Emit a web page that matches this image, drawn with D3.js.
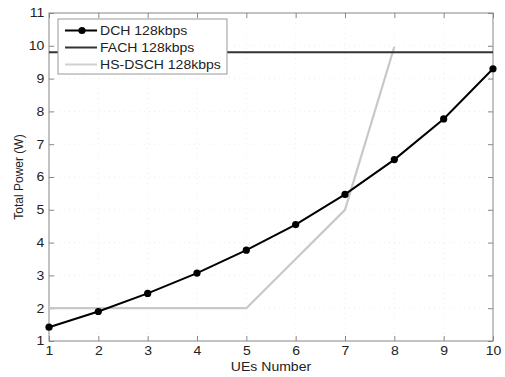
<!DOCTYPE html>
<html><head><meta charset="utf-8">
<script src="https://cdn.jsdelivr.net/npm/d3@7"></script>
<style>body{margin:0;background:#fff}svg{display:block;font-family:Arial,"Liberation Sans",sans-serif}</style>
</head><body><svg id="c" width="505" height="377"></svg>
<script>
const ues = [1,2,3,4,5,6,7,8,9,10];
const dch = [1.42,1.9,2.45,3.07,3.77,4.55,5.47,6.53,7.77,9.3];
const fach = [9.8,9.8,9.8,9.8,9.8,9.8,9.8,9.8,9.8,9.8];
const hsUes = [1,2,3,4,5,6,7,8];
const hsdsch = [2,2,2,2,2,3.5,5.0,9.97];
const xTicks = [1,2,3,4,5,6,7,8,9,10];
const yTicks = [1,2,3,4,5,6,7,8,9,10,11];
const legendLabels = ["DCH 128kbps","FACH 128kbps","HS-DSCH 128kbps"];

const svg = d3.select("#c");
const L=49,R=493,T=13,B=341;
const SX = 1.17; // horizontal stretch of text in reference
const x = d3.scaleLinear().domain([1,10]).range([L,R]);
const y = d3.scaleLinear().domain([1,11]).range([B,T]);

// faint grid
const g = svg.append("g");
xTicks.forEach(t=>g.append("line").attr("x1",x(t)).attr("x2",x(t)).attr("y1",T).attr("y2",B)
  .attr("stroke","#eeeeee").attr("stroke-dasharray","1,4"));
yTicks.forEach(t=>g.append("line").attr("y1",y(t)).attr("y2",y(t)).attr("x1",L).attr("x2",R)
  .attr("stroke","#eeeeee").attr("stroke-dasharray","1,4"));

// axes
const xa = d3.axisBottom(x).tickValues(xTicks).tickSize(-5).tickPadding(5).tickFormat(d3.format("d"));
const ya = d3.axisLeft(y).tickValues(yTicks).tickSize(-5).tickPadding(4).tickFormat(d3.format("d"));
const xt = d3.axisTop(x).tickValues(xTicks).tickSize(-5).tickFormat("");
const yr = d3.axisRight(y).tickValues(yTicks).tickSize(-5).tickFormat("");
function style(sel){sel.selectAll("line").attr("stroke","#888");
  sel.selectAll("text").attr("fill","#222").style("font-size","12px")
    .style("font-family","Arial,'Liberation Sans',sans-serif");}
svg.append("g").attr("transform",`translate(0,${B})`).call(xa).call(style)
  .selectAll("text").attr("transform",`scale(${SX},1)`);
svg.append("g").attr("transform",`translate(${L},0)`).call(ya).call(style)
  .selectAll("text").attr("transform",`scale(${SX},1)`);
svg.append("g").attr("transform",`translate(0,${T})`).call(xt).call(style);
svg.append("g").attr("transform",`translate(${R},0)`).call(yr).call(style);
svg.selectAll(".domain").remove();
svg.append("rect").attr("x",L).attr("y",T).attr("width",R-L).attr("height",B-T)
  .attr("fill","none").attr("stroke","#888").attr("stroke-width",1);

// labels
svg.append("text").attr("transform",`translate(${(L+R)/2},371) scale(${SX},1)`).attr("text-anchor","middle")
  .attr("font-size",12).attr("fill","#222").text("UEs Number");
svg.append("text").attr("transform",`translate(23,${(T+B)/2}) rotate(-90)`).attr("text-anchor","middle")
  .attr("font-size",12).attr("fill","#222").text("Total Power (W)");

const line = d3.line().x(d=>x(d[0])).y(d=>y(d[1]));
svg.append("path").datum(hsUes.map((u,i)=>[u,hsdsch[i]])).attr("d",line)
  .attr("fill","none").attr("stroke","#c8c8c8").attr("stroke-width",2.2);
svg.append("path").datum(ues.map((u,i)=>[u,fach[i]])).attr("d",line)
  .attr("fill","none").attr("stroke","#333").attr("stroke-width",2);
svg.append("path").datum(ues.map((u,i)=>[u,dch[i]])).attr("d",line)
  .attr("fill","none").attr("stroke","#000").attr("stroke-width",2);
svg.selectAll("circle.d").data(ues.map((u,i)=>[u,dch[i]])).enter().append("circle")
  .attr("cx",d=>x(d[0])).attr("cy",d=>y(d[1])).attr("r",3.6).attr("fill","#000");

// legend
const lg = svg.append("g");
lg.append("rect").attr("x",58).attr("y",19).attr("width",169).attr("height",55)
  .attr("fill","#fff").attr("stroke","#999");
const colors=["#000","#333","#d0d0d0"];
legendLabels.forEach((lab,i)=>{
  const yy = 30.5 + i*17;
  lg.append("line").attr("x1",65).attr("x2",97).attr("y1",yy).attr("y2",yy)
    .attr("stroke",colors[i]).attr("stroke-width",2);
  if(i===0) lg.append("circle").attr("cx",82).attr("cy",yy).attr("r",3.6).attr("fill","#000");
  lg.append("text").attr("transform",`translate(100,${yy+4.5}) scale(${SX},1)`)
    .attr("font-size",12).attr("fill","#222").text(lab);
});
</script></body></html>
